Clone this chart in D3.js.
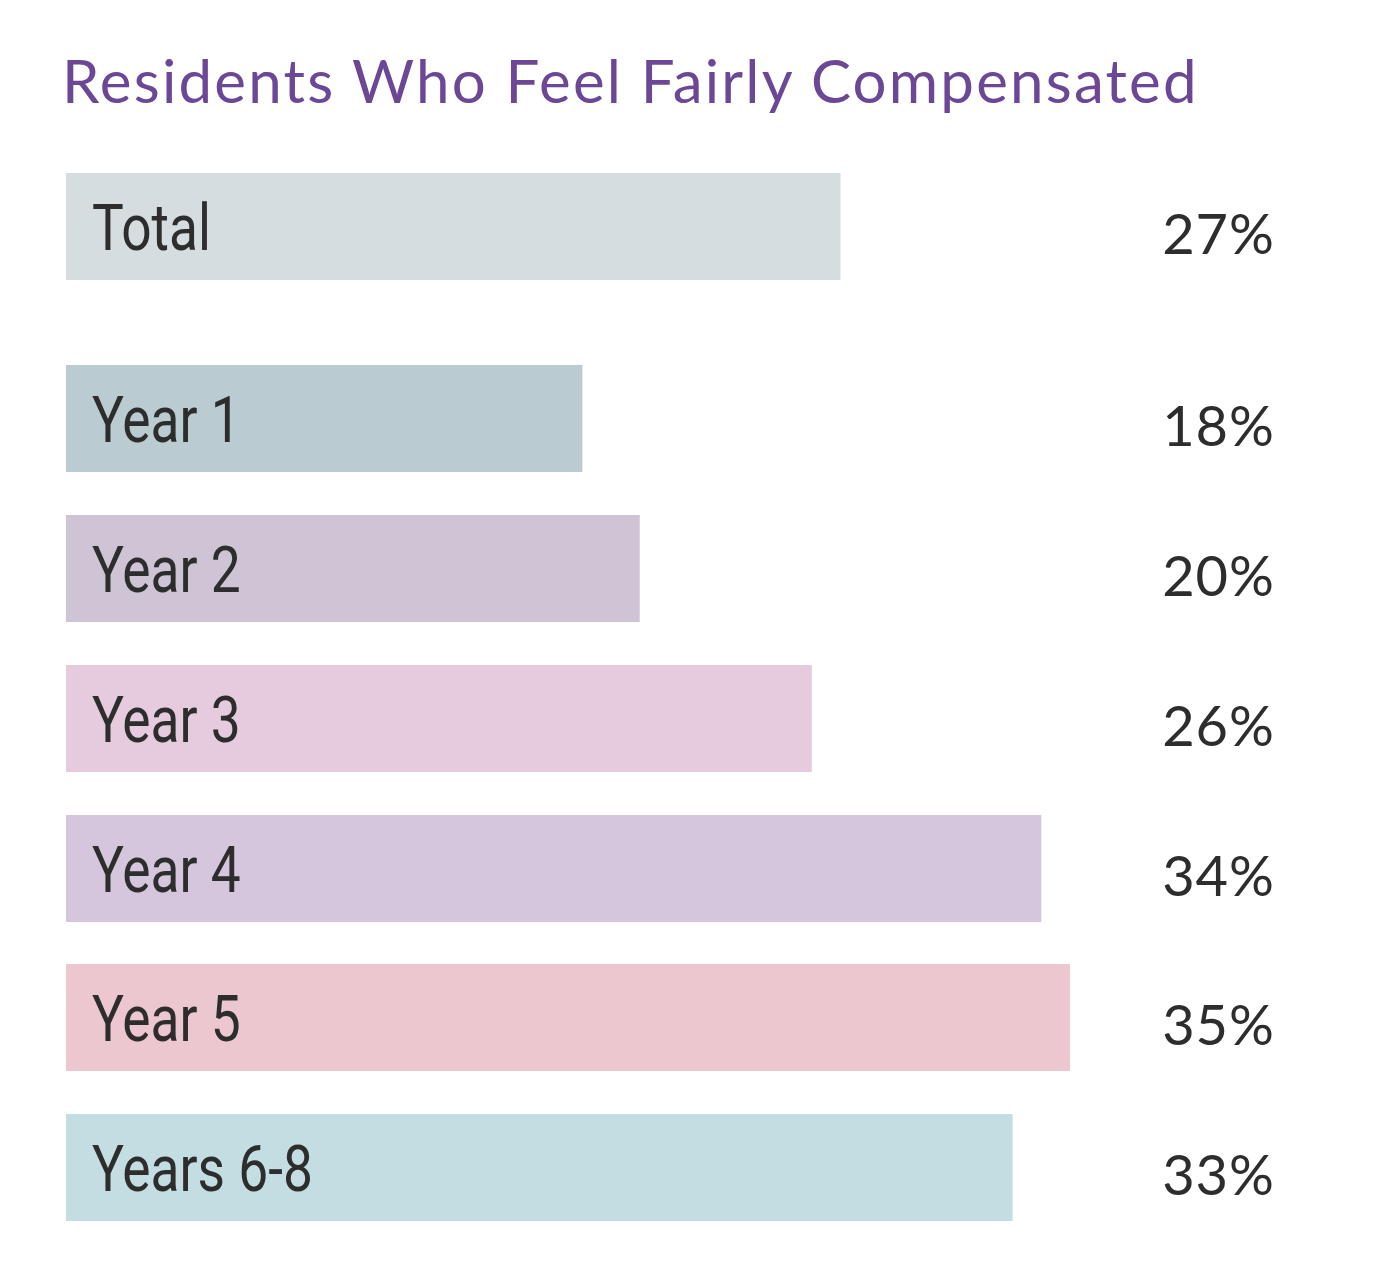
<!DOCTYPE html>
<html>
<head>
<meta charset="utf-8">
<script src="https://cdn.jsdelivr.net/npm/d3@7"></script>
<style>
  body { margin: 0; background: #fff; }
  svg { display: block; }
</style>
</head>
<body>
<div id="chart"></div>
<script>
const categories = ['Total', 'Year 1', 'Year 2', 'Year 3', 'Year 4', 'Year 5', 'Years 6-8'];
const values = [27, 18, 20, 26, 34, 35, 33];
const colors = ['#d5dde0', '#baccd1', '#cec4d5', '#e5cbdd', '#d5c6de', '#edc7cf', '#c3dde2'];
// Total sits a bit further from the year rows
const rowTops = [173, 365, 515, 665, 815, 964, 1114];

const width = 1380, height = 1286;
const barH = 107;

const svg = d3.select('#chart').append('svg')
  .attr('width', width)
  .attr('height', height);

svg.append('text')
  .attr('x', 62)
  .attr('y', 103)
  .attr('fill', '#6b4796')
  .style('font-family', 'Lato')
  .style('font-size', '60px')
  .style('letter-spacing', '2.2px')
  .text('Residents Who Feel Fairly Compensated');

const x = d3.scaleLinear().domain([0, 35]).range([66, 1070]);

const rows = svg.selectAll('g.row')
  .data(categories)
  .enter().append('g')
  .attr('class', 'row')
  .attr('transform', (d, i) => `translate(0,${rowTops[i]})`);

rows.append('rect')
  .attr('x', x(0))
  .attr('y', 0)
  .attr('width', (d, i) => x(values[i]) - x(0))
  .attr('height', barH)
  .attr('fill', (d, i) => colors[i]);

rows.append('text')
  .attr('transform', `translate(92,${barH / 2 + 23}) scale(0.82,1)`)
  .attr('fill', '#2d2d2d')
  .style('font-family', 'Roboto')
  .style('font-size', '65px')
  .text(d => d);

rows.append('text')
  .attr('x', 1275)
  .attr('y', barH / 2 + 27)
  .attr('text-anchor', 'end')
  .attr('fill', '#2d2d2d')
  .style('font-family', 'Lato')
  .style('font-size', '56px')
  .style('letter-spacing', '1px')
  .text((d, i) => values[i] + '%');
</script>
</body>
</html>
